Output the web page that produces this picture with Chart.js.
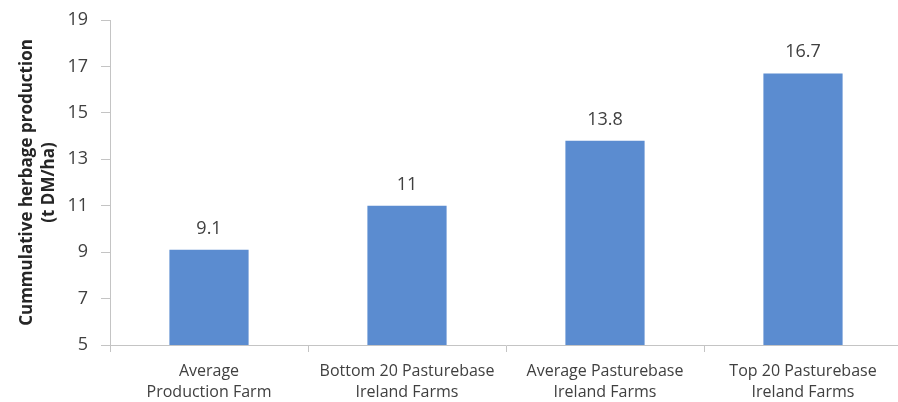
<!DOCTYPE html>
<html>
<head>
<meta charset="utf-8">
<script src="https://cdn.jsdelivr.net/npm/chart.js@4"></script>
<style>
  html, body { margin: 0; padding: 0; background: #fff; overflow: hidden; }
  #wrap { width: 898px; height: 402px; overflow: hidden; }
</style>
</head>
<body>
<div id="wrap"><canvas id="chart" width="906" height="402"></canvas></div>
<script>
const categories = [
    ["Average", "Production Farm"],
    ["Bottom 20 Pasturebase", "Ireland Farms"],
    ["Average Pasturebase", "Ireland Farms"],
    ["Top 20 Pasturebase", "Ireland Farms"]
];
const production = [9.1, 11, 13.8, 16.7];
const yTitle = ["Cummulative herbage production", "(t DM/ha)"];

const FONT = "'Open Sans', 'Liberation Sans', sans-serif";
const AXIS = "#c4c4c4";

// draw value above each bar
const valueLabels = {
    id: "valueLabels",
    afterDatasetsDraw(chart) {
        const ctx = chart.ctx;
        const meta = chart.getDatasetMeta(0);
        ctx.save();
        ctx.font = "18px " + FONT;
        ctx.fillStyle = "#404040";
        ctx.textAlign = "center";
        ctx.textBaseline = "alphabetic";
        meta.data.forEach((bar, i) => {
            ctx.fillText(String(production[i]), bar.x, bar.y - 16);
        });
        ctx.restore();
    }
};

new Chart(document.getElementById("chart"), {
    type: "bar",
    data: {
        labels: categories,
        datasets: [{
            data: production,
            backgroundColor: "#5b8cd0",
            categoryPercentage: 1,
            barPercentage: 0.4
        }]
    },
    options: {
        responsive: false,
        animation: false,
        layout: { padding: { top: 20, right: 4, left: 0, bottom: 0 } },
        plugins: { legend: { display: false }, tooltip: { enabled: false } },
        scales: {
            x: {
                offset: true,
                grid: { display: true, offset: true, drawOnChartArea: false, tickLength: 7, color: AXIS },
                border: { display: true, color: AXIS },
                ticks: { font: { size: 16, family: FONT, lineHeight: 1.3 }, color: "#404040", padding: 9, maxRotation: 0 },
                afterFit(s) { s.height = 57; }
            },
            y: {
                min: 5,
                max: 19,
                ticks: { stepSize: 2, font: { size: 18, family: FONT }, color: "#404040", padding: 13 },
                grid: { display: true, drawOnChartArea: false, tickLength: 9, color: AXIS },
                border: { display: true, color: AXIS },
                title: {
                    display: true,
                    text: yTitle,
                    font: { size: 17, weight: "bold", family: FONT, lineHeight: 1.25 },
                    color: "#262626",
                    padding: { top: 17, bottom: 0 }
                },
                afterFit(s) {
                    s.width = 110;
                    s.paddingTop = 0;
                    s.paddingBottom = 0;
                }
            }
        }
    },
    plugins: [valueLabels]
});
</script>
</body>
</html>
